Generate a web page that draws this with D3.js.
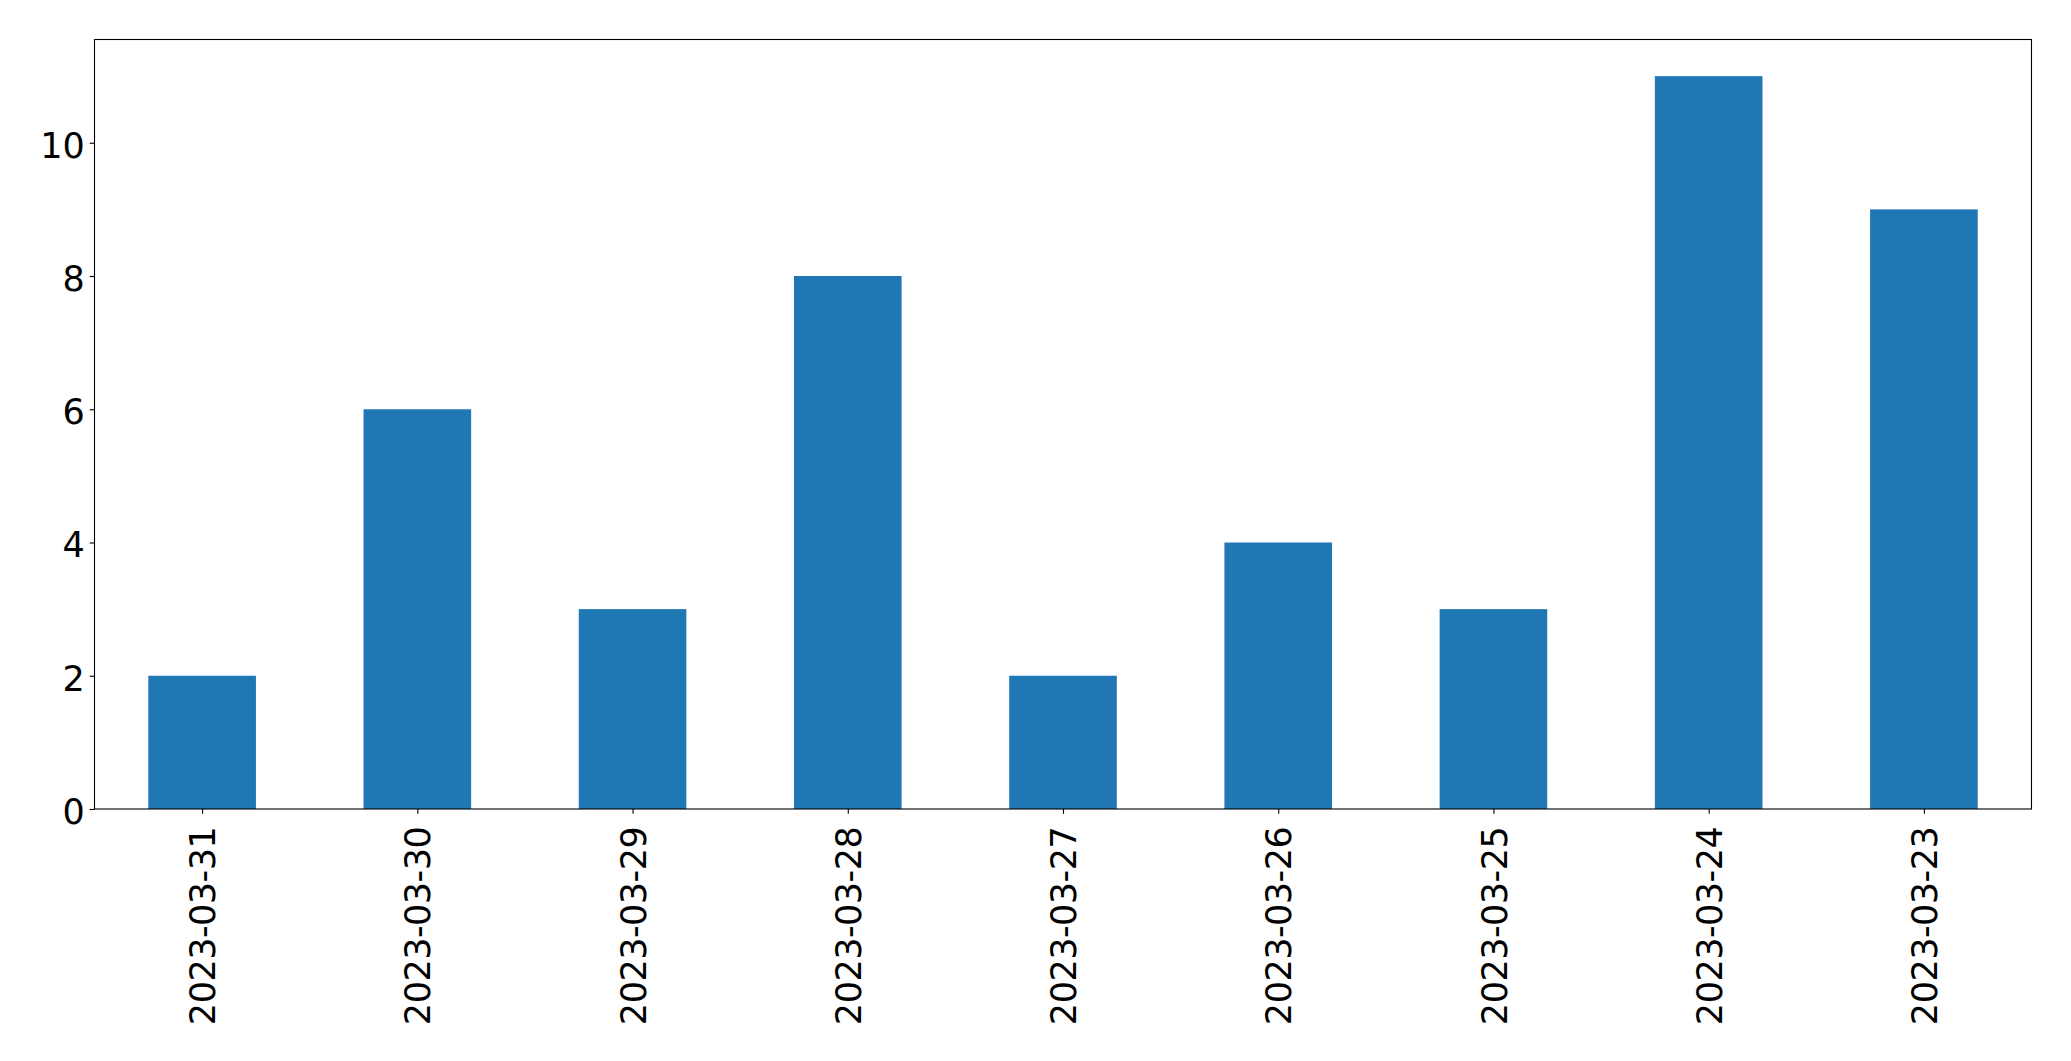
<!DOCTYPE html>
<html><head><meta charset="utf-8">
<script src="https://cdn.jsdelivr.net/npm/d3@7"></script>
<style>html,body{margin:0;padding:0;background:#fff;}</style>
</head><body>
<script>
const categories = ["2023-03-31","2023-03-30","2023-03-29","2023-03-28","2023-03-27","2023-03-26","2023-03-25","2023-03-24","2023-03-23"];
const values = [2,6,3,8,2,4,3,11,9];
const yTicks = [0,2,4,6,8,10];

(function(){
const W = 2071, H = 1061;
const mLeft = 94.5, mRight = 2031.5, mTop = 39.5, mBottom = 809;
const FONT = "DejaVu Sans, sans-serif";
const svg = d3.select("body").append("svg").attr("width", W).attr("height", H);

const x = d3.scaleLinear().domain([-0.5, categories.length - 0.5]).range([mLeft, mRight]);
const y = d3.scaleLinear().domain([0, d3.max(values) * 1.05]).range([mBottom, mTop]);

svg.append("g").selectAll("rect").data(values).join("rect")
  .attr("x", (d, i) => x(i - 0.25))
  .attr("width", (d, i) => x(i + 0.25) - x(i - 0.25))
  .attr("y", d => y(d))
  .attr("height", d => y(0) - y(d))
  .attr("fill", "#1f77b4");

const fs = 35, tl = 4.86, pad = 4.86;
const yAxis = d3.axisLeft(y).tickValues(yTicks).tickSize(tl).tickPadding(pad).tickFormat(d3.format("d"));
const gy = svg.append("g").attr("transform", `translate(${mLeft},0)`).call(yAxis)
  .attr("font-family", FONT).attr("font-size", fs);
gy.select(".domain").remove();
gy.selectAll("line").attr("stroke", "#000").attr("stroke-width", 1.1);
gy.selectAll("text").attr("fill", "#000").attr("dy", "0.41em");

const xAxis = d3.axisBottom(x).tickValues(d3.range(categories.length)).tickSize(tl).tickPadding(pad)
  .tickFormat(i => categories[i]);
const gx = svg.append("g").attr("transform", `translate(0,${mBottom})`).call(xAxis)
  .attr("font-family", FONT).attr("font-size", fs);
gx.select(".domain").remove();
gx.selectAll("line").attr("stroke", "#000").attr("stroke-width", 1.1);
gx.selectAll("text").attr("fill", "#000")
  .attr("transform", `translate(0,${tl + pad + 8}) rotate(-90)`)
  .attr("x", 0).attr("y", 0).attr("dy", "0.36em")
  .attr("letter-spacing", "-0.5px")
  .attr("text-anchor", "end");

svg.append("rect").attr("x", mLeft).attr("y", mTop).attr("width", mRight - mLeft).attr("height", mBottom - mTop)
  .attr("fill", "none").attr("stroke", "#000").attr("stroke-width", 1.1);
})();
</script>
</body></html>
